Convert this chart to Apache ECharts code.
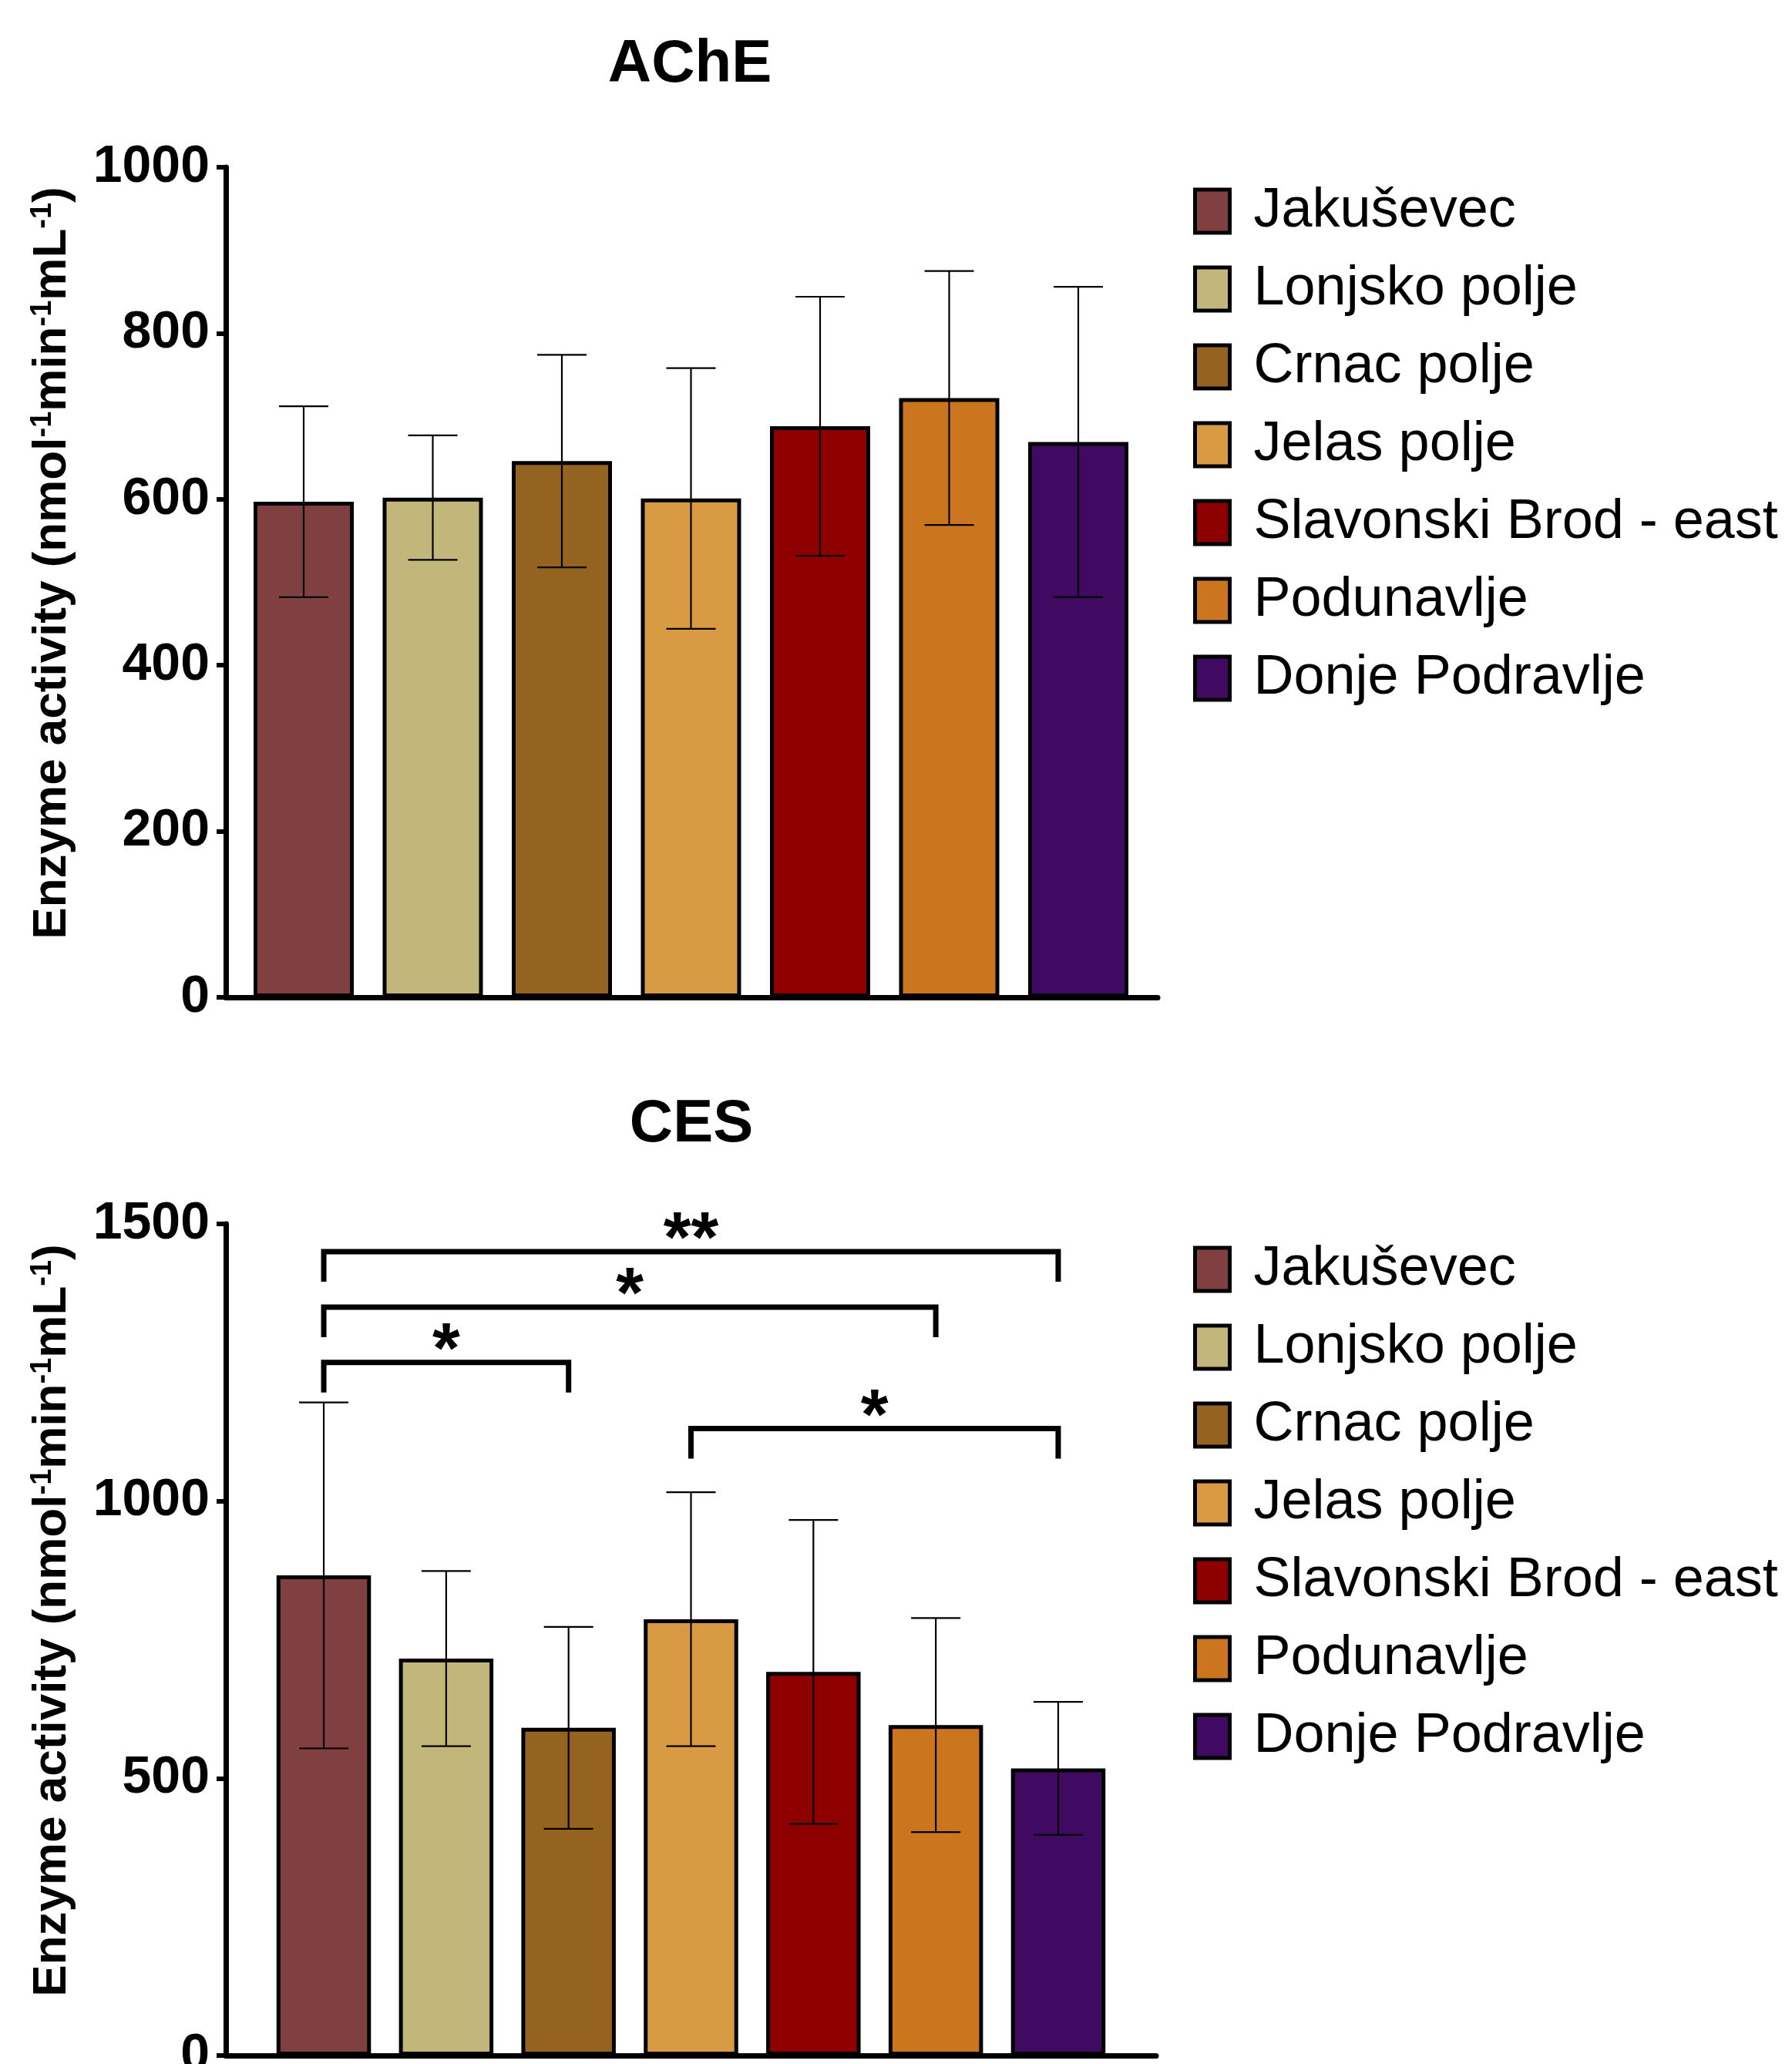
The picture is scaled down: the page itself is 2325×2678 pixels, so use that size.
<!DOCTYPE html>
<html>
<head>
<meta charset="utf-8">
<script src="https://cdn.jsdelivr.net/npm/echarts@6/dist/echarts.min.js"></script>
<style>
  html, body { margin: 0; padding: 0; background: #fff; }
  #chart { width: 2325px; height: 2678px; }
</style>
</head>
<body>
<div id="chart"></div>
<script>
// sites (legend / bar order)
const sites = ['Jakuševec', 'Lonjsko polje', 'Crnac polje', 'Jelas polje', 'Slavonski Brod - east', 'Podunavlje', 'Donje Podravlje'];
const siteColors = ['#803f40', '#c2b67b', '#94631f', '#d89a42', '#8e0000', '#cc751f', '#400a63'];

// AChE mean and SD
const acheMean = [597, 602, 646, 601, 688, 722, 669];
const acheSd = [115, 75, 128, 157, 156, 153, 187];

// CES mean and SD
const cesMean = [866, 716, 591, 787, 692, 596, 518];
const cesSd = [312, 158, 182, 229, 274, 193, 120];

// CES significance brackets (site index from / to, bracket height, mark)
const bracketFrom = [0, 0, 0, 3];
const bracketTo = [6, 5, 2, 6];
const bracketY = [1450, 1350, 1250, 1131];
const bracketMark = ['**', '*', '*', '*'];

const FONT = "'Liberation Sans', Arial, Helvetica, sans-serif";
const yName = '{a|Enzyme activity (nmol}{s|-1}{a|min}{s|-1}{a|mL}{s|-1}{a|)}';

function axisPair(gi, xMin, xMax, yMax, yStep) {
  const line = { show: true, onZero: false, lineStyle: { color: '#000', width: 7 } };
  return {
    x: {
      gridIndex: gi, type: 'value', min: xMin, max: xMax,
      axisLine: line, axisTick: { show: false }, axisLabel: { show: false }, splitLine: { show: false },
    },
    y: {
      gridIndex: gi, type: 'value', min: 0, max: yMax, interval: yStep,
      axisLine: line,
      axisTick: { show: true, length: 12, lineStyle: { color: '#000', width: 6 } },
      axisLabel: {
        margin: 21, color: '#000', fontSize: 68, fontWeight: 'bold', fontFamily: FONT,
        formatter: v => String(v),
      },
      splitLine: { show: false },
      name: yName,
      nameLocation: 'middle',
      nameGap: 194,
      nameTextStyle: {
        color: '#000', fontFamily: FONT, fontWeight: 'bold', fontSize: 62,
        padding: [0, 0, 0, 50],
        rich: {
          a: { fontSize: 62, fontWeight: 'bold', fontFamily: FONT, color: '#000' },
          s: { fontSize: 38, fontWeight: 'bold', fontFamily: FONT, color: '#000', verticalAlign: 'top' },
        },
      },
    },
  };
}

const acheAxes = axisPair(0, -0.603, 6.615, 1000, 200);
const cesAxes = axisPair(1, -0.8, 6.8, 1500, 500);

function barSeries(gi, means, width) {
  return sites.map((name, i) => ({
    name: name,
    type: 'bar',
    xAxisIndex: gi,
    yAxisIndex: gi,
    barWidth: width,
    barGap: '-100%',
    itemStyle: { color: siteColors[i], borderColor: '#000', borderWidth: 5 },
    data: [[i, means[i]]],
  }));
}

function errorSeries(gi, means, sds) {
  return {
    type: 'custom',
    xAxisIndex: gi,
    yAxisIndex: gi,
    z: 5,
    encode: { x: 0, y: 1 },
    data: means.map((m, i) => [i, m, sds[i]]),
    renderItem: function (params, api) {
      const x = api.value(0);
      const m = api.value(1);
      const s = api.value(2);
      const hi = api.coord([x, m + s]);
      const lo = api.coord([x, m - s]);
      const w = 32;
      const st = { stroke: '#000', lineWidth: 2.2 };
      return {
        type: 'group',
        children: [
          { type: 'line', shape: { x1: hi[0], y1: hi[1], x2: lo[0], y2: lo[1] }, style: st },
          { type: 'line', shape: { x1: hi[0] - w, y1: hi[1], x2: hi[0] + w, y2: hi[1] }, style: st },
          { type: 'line', shape: { x1: lo[0] - w, y1: lo[1], x2: lo[0] + w, y2: lo[1] }, style: st },
        ],
      };
    },
  };
}

const bracketSeries = {
  type: 'custom',
  xAxisIndex: 1,
  yAxisIndex: 1,
  z: 6,
  encode: { x: [0, 1], y: 2 },
  data: bracketFrom.map((f, i) => [f, bracketTo[i], bracketY[i]]),
  renderItem: function (params, api) {
    const a = api.coord([api.value(0), api.value(2)]);
    const b = api.coord([api.value(1), api.value(2)]);
    const drop = 39;
    return {
      type: 'group',
      children: [
        {
          type: 'polyline',
          shape: { points: [[a[0], a[1] + drop], a, b, [b[0], b[1] + drop]] },
          style: { stroke: '#000', lineWidth: 7, fill: null, lineJoin: 'miter', lineCap: 'butt' },
        },
        {
          type: 'text',
          style: {
            text: bracketMark[params.dataIndex],
            x: (a[0] + b[0]) / 2,
            y: a[1] - 12,
            align: 'center',
            verticalAlign: 'middle',
            fontSize: 92,
            fontWeight: 'bold',
            fontFamily: FONT,
            fill: '#000',
          },
        },
      ],
    };
  },
};

function legendAt(t) {
  return {
    data: sites,
    orient: 'vertical',
    left: 1548,
    top: t,
    padding: 0,
    itemWidth: 45,
    itemHeight: 56,
    itemGap: 29,
    selectedMode: false,
    icon: 'rect',
    itemStyle: { borderColor: '#000', borderWidth: 5 },
    textStyle: { fontSize: 72, lineHeight: 56, fontFamily: FONT, color: '#000', padding: [0, 0, 0, 26] },
  };
}

const chart = echarts.init(document.getElementById('chart'), null, { renderer: 'canvas' });
chart.setOption({
  backgroundColor: '#fff',
  animation: false,
  title: [
    { text: 'AChE', left: 895, top: 45, textAlign: 'center', padding: 0,
      textStyle: { fontSize: 78, fontWeight: 'bold', fontFamily: FONT, color: '#000' } },
    { text: 'CES', left: 897, top: 1420, textAlign: 'center', padding: 0,
      textStyle: { fontSize: 78, fontWeight: 'bold', fontFamily: FONT, color: '#000' } },
  ],
  legend: [legendAt(238), legendAt(1611)],
  grid: [
    { left: 293, top: 217, width: 1209, height: 1077, outerBoundsMode: 'none' },
    { left: 293, top: 1588, width: 1207, height: 1079, outerBoundsMode: 'none' },
  ],
  xAxis: [acheAxes.x, cesAxes.x],
  yAxis: [acheAxes.y, cesAxes.y],
  series: [].concat(
    barSeries(0, acheMean, 130),
    [errorSeries(0, acheMean, acheSd)],
    barSeries(1, cesMean, 122.5),
    [errorSeries(1, cesMean, cesSd), bracketSeries]
  ),
});
</script>
</body>
</html>
